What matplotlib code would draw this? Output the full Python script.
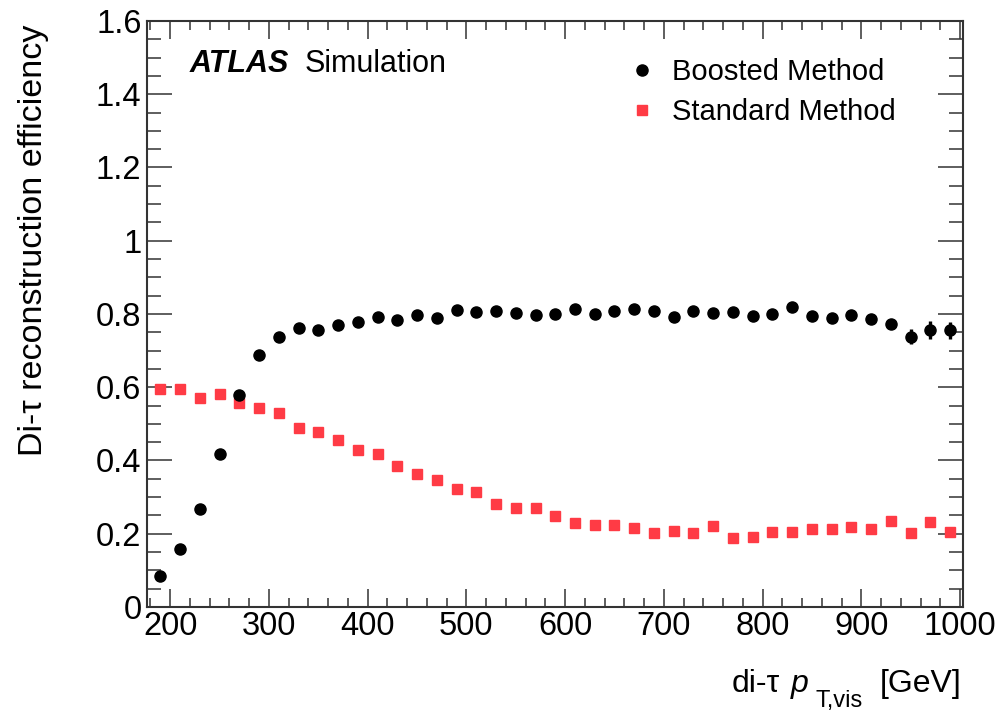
import matplotlib
matplotlib.use("Agg")
import matplotlib.pyplot as plt
from matplotlib.ticker import MultipleLocator, FuncFormatter

plt.rcParams['font.family'] = ['Liberation Sans', 'DejaVu Sans']

# bin centres in GeV
pt = [190, 210, 230, 250, 270, 290, 310, 330, 350, 370, 390, 410, 430, 450,
      470, 490, 510, 530, 550, 570, 590, 610, 630, 650, 670, 690, 710, 730,
      750, 770, 790, 810, 830, 850, 870, 890, 910, 930, 950, 970, 990]

boosted = [0.084, 0.157, 0.268, 0.419, 0.580, 0.687, 0.736, 0.763, 0.755, 0.770,
           0.777, 0.793, 0.784, 0.796, 0.788, 0.810, 0.806, 0.807, 0.804, 0.797,
           0.799, 0.815, 0.799, 0.809, 0.813, 0.809, 0.793, 0.807, 0.803, 0.805,
           0.795, 0.801, 0.820, 0.794, 0.789, 0.798, 0.786, 0.774, 0.738, 0.757,
           0.755]
boosted_err = [0.005] * 35 + [0.008, 0.010, 0.012, 0.021, 0.024, 0.024]

standard = [0.594, 0.594, 0.572, 0.581, 0.556, 0.544, 0.530, 0.490, 0.479, 0.455,
            0.428, 0.417, 0.385, 0.363, 0.348, 0.322, 0.315, 0.281, 0.271, 0.271,
            0.248, 0.230, 0.223, 0.224, 0.217, 0.202, 0.207, 0.202, 0.220, 0.189,
            0.192, 0.204, 0.206, 0.212, 0.212, 0.218, 0.212, 0.235, 0.202, 0.231,
            0.204]

W, H = 999, 713
fig = plt.figure(figsize=(W / 100, H / 100), dpi=100)
ax = fig.add_axes([147 / W, 1 - 607 / H, 816 / W, 586 / H])

red = '#ff3b45'
std_line, = ax.plot(pt, standard, 's', color=red, markersize=7.8,
                    label='Standard Method', zorder=2)
ax.errorbar(pt, boosted, yerr=boosted_err, fmt='none', ecolor='black',
            elinewidth=2.4, capsize=0, zorder=3)
bst_line, = ax.plot(pt, boosted, 'o', color='black', markersize=8,
                    label='Boosted Method', zorder=4)

ax.set_xlim(176.5, 1003)
ax.set_ylim(0, 1.6)
ax.xaxis.set_major_locator(MultipleLocator(100))
ax.xaxis.set_minor_locator(MultipleLocator(20))
ax.yaxis.set_major_locator(MultipleLocator(0.2))
ax.yaxis.set_minor_locator(MultipleLocator(0.05))
ax.yaxis.set_major_formatter(FuncFormatter(lambda v, p: '%g' % round(v, 2)))

ax.tick_params(which='both', direction='in', top=True, right=True,
               labelsize=23.5, color='#333333', width=1.1)
ax.tick_params(axis='x', which='major', length=13, pad=3)
ax.tick_params(axis='x', which='minor', length=6.5)
ax.tick_params(axis='y', which='major', length=18, pad=4)
ax.tick_params(axis='y', which='minor', length=10)
for s in ax.spines.values():
    s.set_linewidth(1.5)
    s.set_color('#333333')

ax.set_ylabel('Di-τ reconstruction efficiency', fontsize=24.5)
ax.yaxis.set_label_coords(-0.120, 0.625)

# x axis title, pieced together to get the low ROOT-style subscript
fig.text(732 / W, 1 - 692 / H, 'di-τ', fontsize=23, ha='left', va='baseline')
fig.text(791 / W, 1 - 692 / H, 'p', fontsize=23, fontstyle='italic',
         ha='left', va='baseline')
fig.text(815 / W, 1 - 707 / H, 'T,vis', fontsize=17, ha='left', va='baseline')
fig.text(962 / W, 1 - 692 / H, '[GeV]', fontsize=23, ha='right', va='baseline')

ax.text(190 / W, 1 - 72 / H, 'ATLAS', transform=fig.transFigure, fontsize=22,
        fontweight='bold', fontstyle='italic', va='baseline')
ax.text(305 / W, 1 - 72 / H, 'Simulation', transform=fig.transFigure,
        fontsize=22, va='baseline')

ax.legend([bst_line, std_line], ['Boosted Method', 'Standard Method'],
          loc='upper left', bbox_to_anchor=(624 / W, 1 - 58 / H),
          bbox_transform=fig.transFigure, frameon=False, fontsize=21,
          handletextpad=0.45, labelspacing=0.42, handlelength=1.2,
          borderpad=0, borderaxespad=0)

fig.savefig('out.png', dpi=100)
